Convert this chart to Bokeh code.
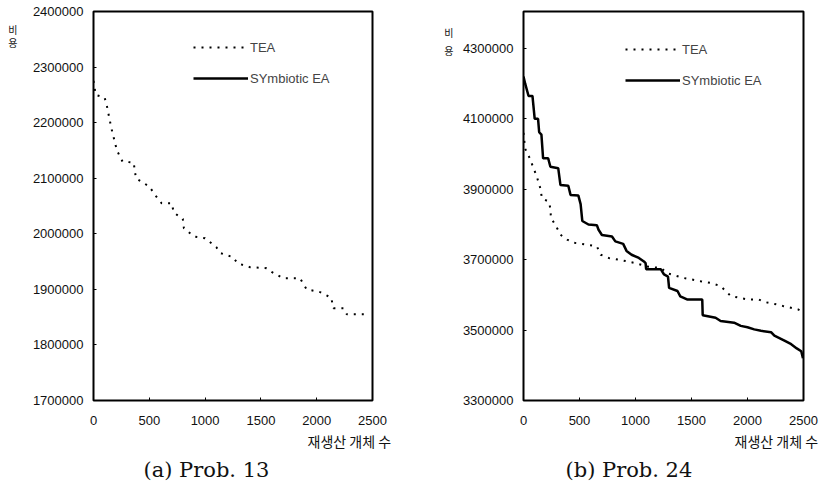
from bokeh.plotting import figure
from bokeh.layouts import row
from bokeh.models import (Legend, LegendItem, Range1d, FixedTicker, Title, LinearAxis,
                          BasicTickFormatter)
from bokeh.embed import file_html
from bokeh.resources import INLINE

# ---------------- data ----------------
x_ticks = [0, 500, 1000, 1500, 2000, 2500]
a_y_ticks = [1700000, 1800000, 1900000, 2000000, 2100000, 2200000, 2300000, 2400000]
b_y_ticks = [3300000, 3500000, 3700000, 3900000, 4100000, 4300000]

a_tea_x = [0, 20, 100, 120, 160, 210, 260, 360, 380, 500, 570, 610, 700, 720, 800, 810,
           900, 1000, 1100, 1140, 1250, 1290, 1400, 1550, 1600, 1700, 1850, 1910, 2030,
           2130, 2150, 2240, 2270, 2460]
a_tea_y = [2275000, 2250000, 2245000, 2230000, 2190000, 2150000, 2130000, 2128000, 2100000,
           2085000, 2065000, 2055000, 2055000, 2038000, 2027000, 2010000, 1995000, 1992000,
           1976000, 1965000, 1958000, 1947000, 1940000, 1938000, 1931000, 1920000, 1920000,
           1900000, 1895000, 1885000, 1866000, 1866000, 1855000, 1855000]
# Prob. 13 has no Symbiotic EA curve (legend entry only)
a_sym_x = [float("nan")]
a_sym_y = [float("nan")]

b_tea_x = [0, 15, 50, 90, 120, 150, 165, 225, 240, 245, 285, 330, 390, 450, 560, 655, 690,
           760, 850, 990, 1100, 1230, 1280, 1430, 1580, 1670, 1760, 1850, 2000, 2100, 2150,
           2260, 2320, 2450, 2480]
b_tea_y = [4060000, 4015000, 3992000, 3960000, 3935000, 3903000, 3874000, 3865000, 3846000,
           3818000, 3799000, 3771000, 3757000, 3748000, 3743000, 3738000, 3714000, 3705000,
           3700000, 3691000, 3681000, 3676000, 3662000, 3648000, 3639000, 3634000, 3625000,
           3597000, 3587000, 3587000, 3580000, 3573000, 3568000, 3559000, 3554000]

b_sym_x = [0, 15, 45, 80, 100, 130, 140, 160, 175, 220, 240, 310, 330, 400, 420, 490, 510,
           525, 580, 655, 670, 700, 790, 820, 890, 920, 965, 1030, 1075, 1090, 1095, 1225,
           1255, 1290, 1300, 1375, 1400, 1460, 1596, 1600, 1715, 1760, 1880, 1940, 2000,
           2060, 2120, 2210, 2240, 2330, 2390, 2440, 2480, 2495]
b_sym_y = [4220000, 4200000, 4165000, 4165000, 4100000, 4100000, 4062000, 4055000, 3988000,
           3988000, 3964000, 3960000, 3912000, 3910000, 3884000, 3882000, 3858000, 3810000,
           3800000, 3798000, 3785000, 3770000, 3766000, 3752000, 3745000, 3725000, 3714000,
           3705000, 3695000, 3690000, 3673000, 3673000, 3658000, 3652000, 3620000, 3611000,
           3596000, 3587000, 3587000, 3542000, 3535000, 3526000, 3521000, 3512000, 3508000,
           3502000, 3498000, 3494000, 3484000, 3470000, 3460000, 3448000, 3440000, 3420000]

series_names = ["TEA", "SYmbiotic EA"]
y_title_chars = ["비", "용"]
x_title = "재생산 개체 수"
captions = ["(a) Prob. 13", "(b) Prob. 24"]

SANS = "Liberation Sans"
KR = "Noto Sans CJK KR"
SERIF = "DejaVu Serif"
DOT = "2 6"


def make_fig(width, height, mbl, mbr, mbt, mbb, yr, yticks):
    p = figure(width=width, height=height, output_backend="svg", toolbar_location=None,
               x_range=Range1d(0, 2500), y_range=Range1d(*yr),
               min_border_left=mbl, min_border_right=mbr,
               min_border_top=mbt, min_border_bottom=mbb)
    p.grid.visible = False
    p.outline_line_color = "black"
    p.outline_line_width = 2
    p.background_fill_color = "white"
    p.border_fill_color = "white"
    for ax in (p.xaxis[0], p.yaxis[0]):
        ax.axis_line_color = None
        ax.major_tick_out = 0
        ax.major_tick_in = 3
        ax.minor_tick_in = 0
        ax.minor_tick_out = 0
        ax.major_label_text_font = SANS
        ax.major_label_text_font_size = "13px"
        ax.major_label_text_color = "#111111"
        ax.formatter = BasicTickFormatter(use_scientific=False)
    p.xaxis[0].ticker = FixedTicker(ticks=x_ticks)
    p.yaxis[0].ticker = FixedTicker(ticks=yticks)
    p.xaxis[0].major_label_standoff = 15
    p.yaxis[0].major_label_standoff = 10
    return p


def add_texts(p, ylab_pos, ylab_standoff, xt_off, cap_off, caption):
    # "비용" stacked label at the top-left, as an extra label-only axis
    ax = LinearAxis(ticker=FixedTicker(ticks=ylab_pos),
                    major_label_overrides={v: c for v, c in zip(ylab_pos, y_title_chars)},
                    axis_line_color=None, major_tick_line_color=None,
                    minor_tick_line_color=None, major_tick_out=0, major_tick_in=0,
                    major_label_standoff=ylab_standoff,
                    major_label_text_font=KR, major_label_text_font_size="10px",
                    major_label_text_color="#111111")
    p.add_layout(ax, "left")
    p.add_layout(Title(text=x_title, align="left", offset=xt_off, standoff=3,
                       text_font=KR, text_font_size="14px", text_font_style="normal",
                       text_color="#111111"), "below")
    p.add_layout(Title(text=caption, align="left", offset=cap_off, standoff=6,
                       text_font=SERIF, text_font_size="21px", text_font_style="normal",
                       text_color="#111111"), "below")


def add_legend(p, r_tea, r_sym, loc):
    leg = Legend(items=[LegendItem(label=series_names[0], renderers=[r_tea]),
                        LegendItem(label=series_names[1], renderers=[r_sym])],
                 location=loc, padding=0, margin=0, spacing=11,
                 glyph_width=55, glyph_height=20, label_height=20, label_standoff=2,
                 label_text_font=SANS, label_text_font_size="13px",
                 background_fill_alpha=0, border_line_alpha=0)
    p.add_layout(leg)


# ---- left: Prob. 13 ----
pa = make_fig(423, 498, 93, 51, 11, 98, (1700000, 2400000), a_y_ticks)
ra_tea = pa.line(a_tea_x, a_tea_y, line_color="black", line_width=2, line_dash=DOT)
ra_sym = pa.line(a_sym_x, a_sym_y, line_color="black", line_width=2.5)
add_legend(pa, ra_tea, ra_sym, (100, 312))
add_texts(pa, [2367600, 2344200], 12, 214, 50, captions[0])

# ---- right: Prob. 24 ----
pb = make_fig(398, 498, 100, 18, 9, 98, (3300000, 4405000), b_y_ticks)
rb_tea = pb.line(b_tea_x, b_tea_y, line_color="black", line_width=2, line_dash=DOT)
rb_sym = pb.line(b_sym_x, b_sym_y, line_color="black", line_width=2.5)
add_legend(pb, rb_tea, rb_sym, (102, 310))
add_texts(pb, [4345200, 4294400], 6, 211, 42, captions[1])

layout = row(pa, pb, spacing=0)
open("out.html", "w").write(file_html(layout, INLINE))
